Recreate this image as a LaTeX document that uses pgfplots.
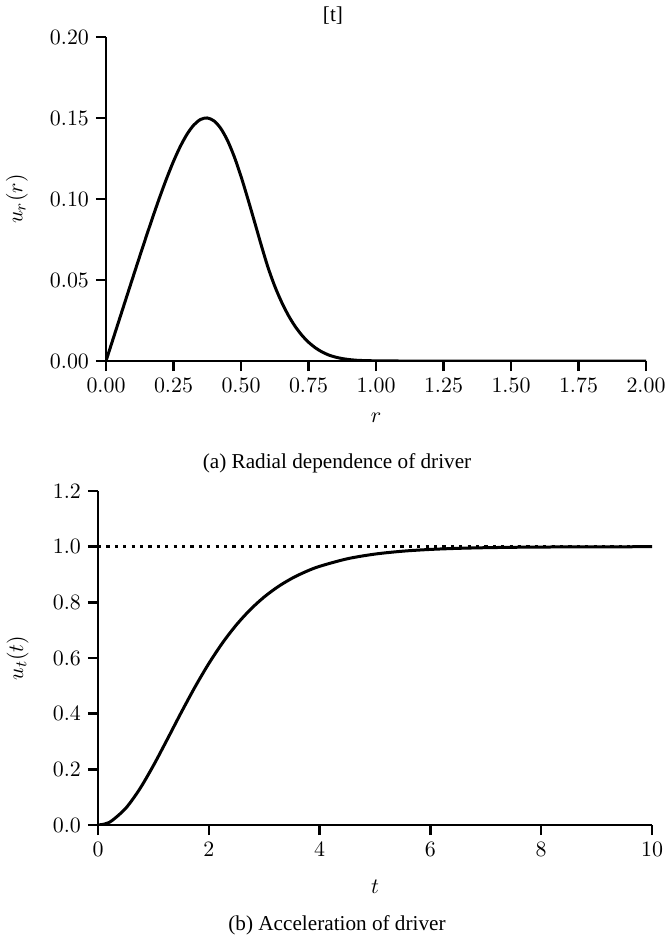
\documentclass[border=0pt]{standalone}
\usepackage{fontspec}
\setmainfont{Liberation Serif}
\usepackage{pgfplots}
\pgfplotsset{compat=1.18}

\pgfplotsset{
  myaxis/.style={
    scale only axis,
    axis x line*=bottom,
    axis y line*=left,
    axis line style={line width=1.2pt},
    tick align=outside,
    major tick length=5pt,
    every tick/.style={line width=1.2pt, black},
    tick label style={font=\fontsize{10.8}{13}\selectfont},
    label style={font=\fontsize{10.8}{13}\selectfont},
    enlargelimits=false,
  }
}

\begin{document}
\begin{tikzpicture}
\path[use as bounding box] (0pt,0pt) rectangle (333.5pt,-471pt);

\node[font=\fontsize{10.6}{12}\selectfont] at (166.5pt,-8pt) {[t]};

% ---------- (a) ----------
\begin{axis}[myaxis,
  at={(53pt,-180.5pt)}, anchor=south west,
  width=270pt, height=162pt,
  xmin=0, xmax=2, ymin=0, ymax=0.2,
  xtick={0,0.25,...,2.0},
  ytick={0,0.05,...,0.2},
  xticklabel style={/pgf/number format/.cd, fixed, fixed zerofill, precision=2},
  yticklabel style={/pgf/number format/.cd, fixed, fixed zerofill, precision=2},
  scaled y ticks=false,
  xlabel={$r$}, ylabel={$u_r(r)$},
  xlabel style={at={(axis description cs:0.5,-0.175)}, anchor=center},
  ylabel style={at={(axis description cs:-0.165,0.5)}, anchor=center},
]
\addplot[black, line width=1.5pt, smooth] coordinates {
(0,0) (0.025,0.01298) (0.05,0.02595) (0.075,0.03891) (0.1,0.05183)
(0.125,0.06467) (0.15,0.07733) (0.175,0.08971) (0.2,0.10164)
(0.225,0.11290) (0.25,0.12325) (0.275,0.13237) (0.3,0.13995)
(0.325,0.14564) (0.35,0.14909) (0.375,0.15003) (0.4,0.14821)
(0.425,0.14357) (0.45,0.13613) (0.475,0.12614) (0.5,0.11399)
(0.525,0.10030) (0.55,0.08600) (0.575,0.07150) (0.6,0.05780)
(0.625,0.04620) (0.65,0.03650) (0.675,0.02830) (0.7,0.02150)
(0.725,0.01600) (0.75,0.01160) (0.775,0.00820) (0.8,0.00560)
(0.825,0.00370) (0.85,0.00240) (0.875,0.00150) (0.9,0.00090)
(0.925,0.00050) (0.95,0.00030) (1.0,0.00010) (1.05,0.00003)
(1.1,0) (1.25,0) (1.5,0) (1.75,0) (2.0,0)
};
\end{axis}
\node[font=\fontsize{10.6}{12}\selectfont] at (168.5pt,-231.5pt) {(a) Radial dependence of driver};

% ---------- (b) ----------
\begin{axis}[myaxis,
  at={(49pt,-412.5pt)}, anchor=south west,
  width=277pt, height=167pt,
  xmin=0, xmax=10, ymin=0, ymax=1.2,
  xtick={0,2,...,10},
  ytick={0,0.2,0.4,0.6,0.8,1.0,1.2},
  yticklabel style={/pgf/number format/.cd, fixed, fixed zerofill, precision=1},
  xlabel={$t$}, ylabel={$u_t(t)$},
  xlabel style={at={(axis description cs:0.5,-0.186)}, anchor=center},
  ylabel style={at={(axis description cs:-0.145,0.5)}, anchor=center},
]
\addplot[black, line width=1.4pt, dash pattern=on 1.6pt off 2.6pt] coordinates {(0,1) (10,1)};
\addplot[black, line width=1.5pt, smooth] coordinates {
(0,0) (0.125,0.00390) (0.25,0.01546) (0.5,0.05998) (0.75,0.12842)
(1.0,0.21355) (1.25,0.30758) (1.5,0.40342) (1.75,0.49548)
(2.0,0.58002) (2.25,0.65497) (2.5,0.71958) (2.75,0.77410)
(3.0,0.81929) (3.25,0.85627) (3.5,0.88618) (3.75,0.91021)
(4.0,0.92935) (4.5,0.95654) (5.0,0.97340) (5.5,0.98379)
(6.0,0.99013) (6.5,0.99400) (7.0,0.99636) (7.5,0.99779)
(8.0,0.99866) (9.0,0.99951) (10.0,0.99982)
};
\end{axis}
\node[font=\fontsize{10.6}{12}\selectfont] at (168.5pt,-462.5pt) {(b) Acceleration of driver};
\end{tikzpicture}
\end{document}
